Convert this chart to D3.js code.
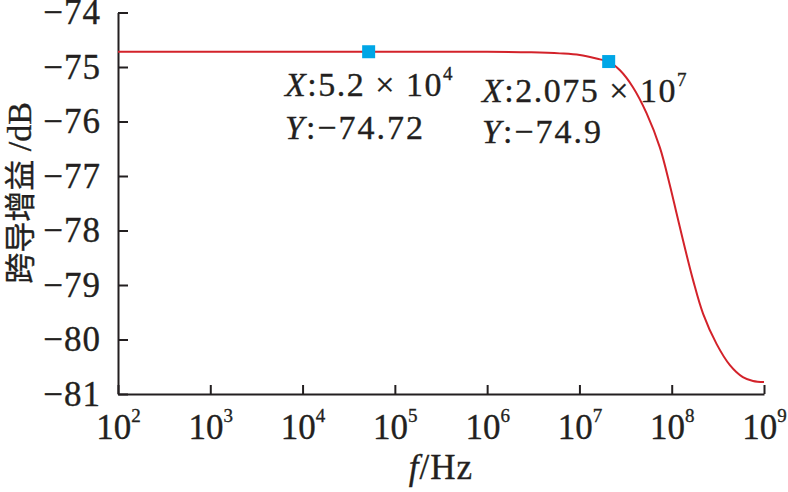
<!DOCTYPE html>
<html>
<head>
<meta charset="utf-8">
<script src="https://cdn.jsdelivr.net/npm/d3@7"></script>
<style>
  html, body { margin: 0; padding: 0; background: #fff; }
  svg { display: block; }
  text { font-family: "Liberation Serif", "Times New Roman", serif; fill: #231f20; stroke: #231f20; stroke-width: 0.35px; }
</style>
</head>
<body>
<div id="chart"></div>
<script>
// frequency (Hz), gain in dB
const freqs = [1e2, 1e3, 1e4, 1e5, 1e6, 3e6, 6.15e6, 1.01e7, 1.67e7, 2.075e7, 2.75e7, 3.8e7,
  5.35e7, 7.45e7, 9.55e7, 1.13e8, 1.33e8, 1.71e8, 2.19e8, 3.06e8, 4.27e8, 5.9e8, 7.6e8, 1e9];
const gains = [-74.72, -74.72, -74.72, -74.72, -74.72, -74.73, -74.75, -74.78, -74.86, -74.9, -75.06, -75.37,
  -75.85, -76.48, -77.17, -77.69, -78.19, -78.92, -79.53, -80.08, -80.47, -80.69, -80.76, -80.78];

// data cursors
const markX = [5.2e4, 2.075e7];
const markY = [-74.72, -74.9];
const markMant = ['5.2', '2.075'];
const markExp = ['4', '7'];
const markYText = ['\u221274.72', '\u221274.9'];

const xTicks = [1e2, 1e3, 1e4, 1e5, 1e6, 1e7, 1e8, 1e9];
const yTicks = [-74, -75, -76, -77, -78, -79, -80, -81];

const width = 788, height = 492;

const svg = d3.select('#chart').append('svg')
  .attr('width', width)
  .attr('height', height);

const x = d3.scaleLog().domain([1e2, 1e9]).range([118, 764]);
const y = d3.scaleLinear().domain([-81, -74]).range([394, 12.5]);

// y axis, ticks pointing inward
const yAxis = svg.append('g')
  .attr('transform', 'translate(118,0)')
  .call(d3.axisLeft(y).tickValues(yTicks).tickSizeInner(-10).tickSizeOuter(0).tickPadding(17)
    .tickFormat(d => '\u2212' + Math.abs(d)));
yAxis.selectAll('text').attr('font-size', 35).attr('font-family', null).attr('letter-spacing', 1);

const xAxis = svg.append('g')
  .attr('transform', 'translate(0,394)')
  .call(d3.axisBottom(x).tickValues(xTicks).tickSizeInner(-9).tickSizeOuter(0));
xAxis.selectAll('text')
  .attr('font-family', null)
  .attr('font-size', 35)
  .attr('dy', null)
  .attr('y', 45)
  .each(function (d) {
    const t = d3.select(this);
    t.text(null);
    t.append('tspan').text('10');
    t.append('tspan').attr('font-size', 19).attr('dy', -17).text(Math.round(Math.log10(d)));
  });

svg.selectAll('.domain, .tick line').attr('stroke', '#231f20').attr('stroke-width', 2);

// curve
const line = d3.line()
  .x((d, i) => x(freqs[i]))
  .y(d => y(d))
  .curve(d3.curveCatmullRom.alpha(0.5));

svg.append('path')
  .datum(gains)
  .attr('d', line)
  .attr('fill', 'none')
  .attr('stroke', '#d3222a')
  .attr('stroke-width', 2);

// markers
svg.selectAll('rect.mark')
  .data(markX)
  .enter()
  .append('rect')
  .attr('class', 'mark')
  .attr('x', (d) => x(d) - 6.5)
  .attr('y', (d, i) => y(markY[i]) - 6.5)
  .attr('width', 13)
  .attr('height', 13)
  .attr('fill', '#00a6e6');

// cursor labels
const labelPos = [[285, 96, 139], [482, 102, 143]];
markX.forEach(function (d, i) {
  const p = labelPos[i];
  const t1 = svg.append('text').attr('x', p[0]).attr('y', p[1]).attr('font-size', 34).attr('letter-spacing', 1.5);
  t1.append('tspan').attr('font-style', 'italic').text('X');
  t1.append('tspan').text(':' + markMant[i] + ' \u00d7 10');
  t1.append('tspan').attr('font-size', 19).attr('dy', -16).text(markExp[i]);
  const t2 = svg.append('text').attr('x', p[0]).attr('y', p[2]).attr('font-size', 34).attr('letter-spacing', 2);
  t2.append('tspan').attr('font-style', 'italic').text('Y');
  t2.append('tspan').text(':' + markYText[i]);
});

// axis titles
const xt = svg.append('text')
  .attr('x', 441)
  .attr('y', 479)
  .attr('text-anchor', 'middle')
  .attr('font-size', 35)
  .attr('letter-spacing', 1);
xt.append('tspan').attr('font-style', 'italic').text('f');
xt.append('tspan').text('/Hz');

const yt = svg.append('text')
  .attr('transform', 'translate(31,193) rotate(-90)')
  .attr('text-anchor', 'middle')
  .attr('font-size', 34);
yt.append('tspan').attr('font-family', '"Noto Sans CJK SC", sans-serif').attr('font-size', 31).text('跨导增益');
yt.append('tspan').text(' /dB');
</script>
</body>
</html>
